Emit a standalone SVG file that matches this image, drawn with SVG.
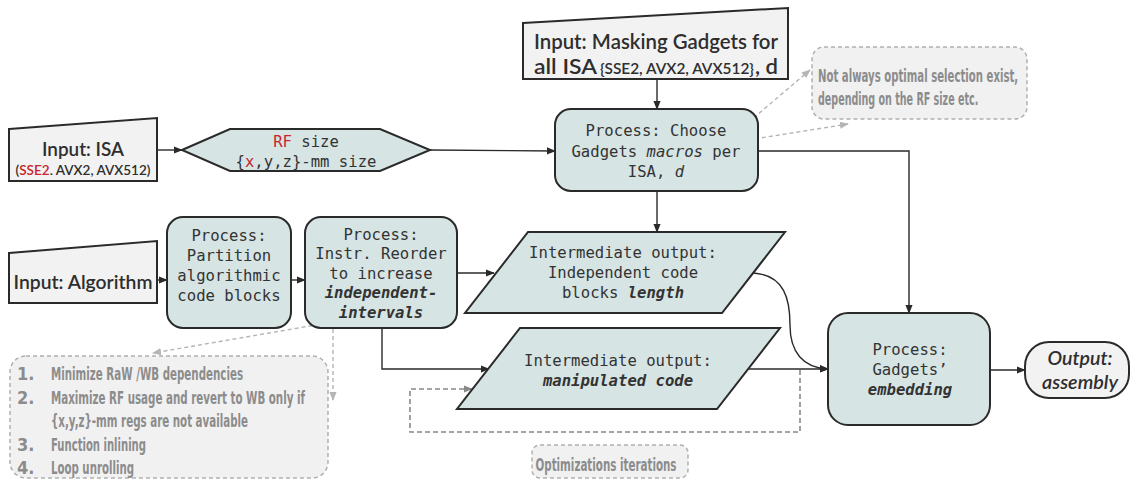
<svg xmlns="http://www.w3.org/2000/svg" width="1131" height="480" viewBox="0 0 1131 480">
<defs>
<style>
.inp{fill:#f2f2f2;stroke:#2a2a2a;stroke-width:2}
.proc{fill:#d6e4e4;stroke:#2a2a2a;stroke-width:2}
.note{fill:#f1f1f1;stroke:#b0b0b0;stroke-width:1.5;stroke-dasharray:4 3}
.mono{font-family:"DejaVu Sans Mono","Liberation Mono",monospace;font-size:15.6px;fill:#333}
.fut{font-family:"Lato","Liberation Sans",sans-serif;font-weight:600;fill:#2e2e2e}
.nar{font-family:"Liberation Sans Narrow","DejaVu Sans Condensed","Liberation Sans",sans-serif;font-size:18px;font-weight:bold;fill:#8c8c8c;font-stretch:condensed}
.red{fill:#c8262e}
.conn{fill:none;stroke:#2a2a2a;stroke-width:1.4}
.dash{fill:none;stroke:#b5b5b5;stroke-width:1.4;stroke-dasharray:4 3}
.loop{fill:none;stroke:#888;stroke-width:1.6;stroke-dasharray:5 3}
</style>
<marker id="ah" viewBox="0 0 10 10" refX="9" refY="5" markerWidth="9" markerHeight="9" markerUnits="userSpaceOnUse" orient="auto"><path d="M0,1 L10,5 L0,9 z" fill="#2a2a2a"/></marker>
<marker id="ahg" viewBox="0 0 10 10" refX="9" refY="5" markerWidth="9" markerHeight="9" markerUnits="userSpaceOnUse" orient="auto"><path d="M0,1 L10,5 L0,9 z" fill="#b5b5b5"/></marker>
<marker id="ahd" viewBox="0 0 10 10" refX="9" refY="5" markerWidth="9" markerHeight="9" markerUnits="userSpaceOnUse" orient="auto"><path d="M0,1 L10,5 L0,9 z" fill="#888"/></marker>
</defs>
<rect width="1131" height="480" fill="#ffffff"/>

<g id="connectors">
<line class="conn" x1="157" y1="150" x2="182" y2="150" marker-end="url(#ah)"/>
<line class="conn" x1="430" y1="150" x2="555" y2="151" marker-end="url(#ah)"/>
<line class="conn" x1="657" y1="79" x2="657" y2="109" marker-end="url(#ah)"/>
<line class="conn" x1="657" y1="191" x2="657" y2="232" marker-end="url(#ah)"/>
<polyline class="conn" points="758,151 909,151 909,313" marker-end="url(#ah)"/>
<line class="conn" x1="157" y1="280" x2="167" y2="280" marker-end="url(#ah)"/>
<line class="conn" x1="291" y1="280" x2="305" y2="280" marker-end="url(#ah)"/>
<line class="conn" x1="457" y1="273" x2="494" y2="273" marker-end="url(#ah)"/>
<polyline class="conn" points="382,328 382,369 489,369" marker-end="url(#ah)"/>
<path class="conn" d="M753,273 C785,275 790,300 790,325 C790,352 803,368 828,369" marker-end="url(#ah)"/>
<line class="conn" x1="749" y1="369" x2="828" y2="369" marker-end="url(#ah)"/>
<line class="conn" x1="990" y1="370" x2="1025" y2="370" marker-end="url(#ah)"/>
<line class="dash" x1="743" y1="127" x2="810" y2="70" marker-end="url(#ahg)"/>
<line class="dash" x1="748" y1="140" x2="848" y2="124" marker-end="url(#ahg)"/>
<line class="dash" x1="333" y1="322" x2="153" y2="353" marker-end="url(#ahg)"/>
<line class="dash" x1="333" y1="322" x2="333" y2="400" marker-end="url(#ahg)"/>
<polyline class="loop" points="800,370 800,432 410,432 410,389 472,389" marker-end="url(#ahd)"/>
</g>

<g id="input-isa">
<polygon class="inp" points="9,129 157,118 157,181 9,181"/>
<text class="fut" x="83" y="156" font-size="20" text-anchor="middle" textLength="82" lengthAdjust="spacingAndGlyphs">Input: ISA</text>
<text class="fut" x="83" y="175" font-size="14" text-anchor="middle" textLength="135" lengthAdjust="spacingAndGlyphs">(<tspan class="red">SSE2</tspan>. AVX2, AVX512)</text>
</g>

<g id="rf-size">
<polygon class="proc" points="182,150 230,129 380,129 430,150 380,171 230,171"/>
<text class="mono" x="306" y="147" text-anchor="middle"><tspan class="red">RF</tspan> size</text>
<text class="mono" x="306" y="167" text-anchor="middle">{<tspan class="red">x</tspan>,y,z}-mm size</text>
</g>

<g id="input-masking">
<polygon class="inp" points="523,23 788,8 788,79 523,79"/>
<text class="fut" x="534" y="49" font-size="21" textLength="244" lengthAdjust="spacingAndGlyphs">Input: Masking Gadgets for</text>
<text class="fut" x="534" y="74" font-size="21" textLength="63" lengthAdjust="spacingAndGlyphs">all ISA</text>
<text class="fut" x="600" y="74" font-size="15" textLength="154" lengthAdjust="spacingAndGlyphs">{SSE2, AVX2, AVX512}</text>
<text class="fut" x="755" y="74" font-size="21" textLength="23" lengthAdjust="spacingAndGlyphs">, d</text>
</g>

<g id="choose-gadgets">
<rect class="proc" x="555" y="109" width="203" height="82" rx="16"/>
<text class="mono" x="656" y="136" text-anchor="middle">Process: Choose</text>
<text class="mono" x="656" y="157" text-anchor="middle">Gadgets <tspan font-style="italic">macros</tspan> per</text>
<text class="mono" x="656" y="177" text-anchor="middle">ISA, <tspan font-style="italic">d</tspan></text>
</g>

<g id="note-selection">
<rect class="note" x="812" y="47" width="215" height="72" rx="12"/>
<text class="nar" transform="translate(818,82) scale(0.7,1)" x="0" y="0" textLength="286" lengthAdjust="spacingAndGlyphs">Not always optimal selection exist,</text>
<text class="nar" transform="translate(818,105) scale(0.7,1)" x="0" y="0" textLength="229" lengthAdjust="spacingAndGlyphs">depending on the RF size etc.</text>
</g>

<g id="input-algorithm">
<polygon class="inp" points="9,253 157,241 157,303 9,303"/>
<text class="fut" x="83" y="289" font-size="20" text-anchor="middle" textLength="139" lengthAdjust="spacingAndGlyphs">Input: Algorithm</text>
</g>

<g id="partition">
<rect class="proc" x="167" y="217" width="124" height="111" rx="16"/>
<text class="mono" x="229" y="241" text-anchor="middle">Process:</text>
<text class="mono" x="229" y="261" text-anchor="middle">Partition</text>
<text class="mono" x="229" y="281" text-anchor="middle">algorithmic</text>
<text class="mono" x="229" y="301" text-anchor="middle">code blocks</text>
</g>

<g id="reorder">
<rect class="proc" x="305" y="217" width="152" height="111" rx="16"/>
<text class="mono" x="381" y="240" text-anchor="middle">Process:</text>
<text class="mono" x="381" y="259" text-anchor="middle">Instr. Reorder</text>
<text class="mono" x="381" y="279" text-anchor="middle">to increase</text>
<text class="mono" x="381" y="298" text-anchor="middle" font-weight="bold" font-style="italic">independent-</text>
<text class="mono" x="381" y="318" text-anchor="middle" font-weight="bold" font-style="italic">intervals</text>
</g>

<g id="intermediate-length">
<polygon class="proc" points="528,232 785,232 722,313 465,313"/>
<text class="mono" x="623" y="258" text-anchor="middle">Intermediate output:</text>
<text class="mono" x="623" y="278" text-anchor="middle">Independent code</text>
<text class="mono" x="623" y="298" text-anchor="middle">blocks <tspan font-weight="bold" font-style="italic">length</tspan></text>
</g>

<g id="intermediate-manipulated">
<polygon class="proc" points="520,328 780,328 717,409 457,409"/>
<text class="mono" x="618" y="366" text-anchor="middle">Intermediate output:</text>
<text class="mono" x="618" y="386" text-anchor="middle" font-weight="bold" font-style="italic">manipulated code</text>
</g>

<g id="note-optimizations">
<rect class="note" x="10" y="356" width="318" height="122" rx="16"/>
<text class="nar" x="17" y="380">1.</text>
<text class="nar" x="51" y="380" textLength="192" lengthAdjust="spacingAndGlyphs">Minimize RaW /WB dependencies</text>
<text class="nar" x="17" y="404">2.</text>
<text class="nar" x="51" y="404" textLength="254" lengthAdjust="spacingAndGlyphs">Maximize RF usage and revert to WB only if</text>
<text class="nar" x="51" y="427" textLength="197" lengthAdjust="spacingAndGlyphs">{x,y,z}-mm regs are not available</text>
<text class="nar" x="17" y="451">3.</text>
<text class="nar" x="51" y="451" textLength="95" lengthAdjust="spacingAndGlyphs">Function inlining</text>
<text class="nar" x="17" y="474">4.</text>
<text class="nar" x="51" y="474" textLength="83" lengthAdjust="spacingAndGlyphs">Loop unrolling</text>
</g>

<g id="note-iterations">
<rect class="note" x="532" y="445" width="156" height="33" rx="8"/>
<text class="nar" x="606" y="471" text-anchor="middle" textLength="141" lengthAdjust="spacingAndGlyphs">Optimizations iterations</text>
</g>

<g id="embedding">
<rect class="proc" x="828" y="313" width="162" height="112" rx="20"/>
<text class="mono" x="910" y="355" text-anchor="middle">Process:</text>
<text class="mono" x="910" y="375" text-anchor="middle">Gadgets’</text>
<text class="mono" x="910" y="395" text-anchor="middle" font-weight="bold" font-style="italic">embedding</text>
</g>

<g id="output-assembly">
<rect class="inp" x="1025" y="342" width="104" height="56" rx="24"/>
<text class="fut" x="1080" y="365" font-size="20" font-style="italic" text-anchor="middle" textLength="65" lengthAdjust="spacingAndGlyphs">Output:</text>
<text class="fut" x="1080" y="389" font-size="20" font-style="italic" text-anchor="middle" textLength="76" lengthAdjust="spacingAndGlyphs">assembly</text>
</g>
</svg>
